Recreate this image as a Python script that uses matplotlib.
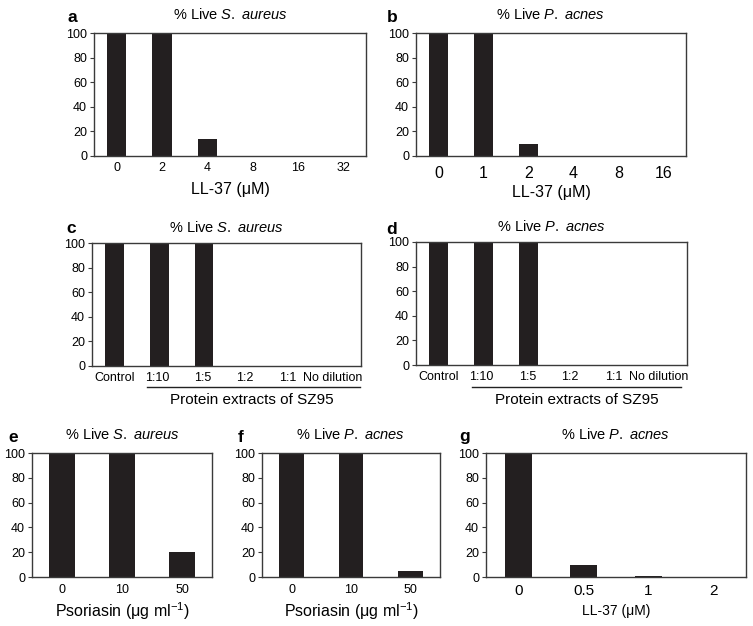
import matplotlib
matplotlib.use("Agg")
import matplotlib.pyplot as plt
import matplotlib.transforms as mtrans

plt.rcParams["font.family"] = ["Liberation Sans", "DejaVu Sans"]
plt.rcParams["mathtext.fontset"] = "custom"
plt.rcParams["mathtext.rm"] = "Liberation Sans"
plt.rcParams["mathtext.it"] = "Liberation Sans:italic"

BAR = "#231f20"
EDGE = "#3a3a3a"

# data
a_cats = ["0", "2", "4", "8", "16", "32"]
a_vals = [100, 100, 14, 0, 0, 0]
b_cats = ["0", "1", "2", "4", "8", "16"]
b_vals = [100, 100, 10, 0, 0, 0]
cd_cats = ["Control", "1:10", "1:5", "1:2", "1:1", "No dilution"]
c_vals = [100, 100, 100, 0, 0, 0]
d_vals = [100, 100, 100, 0, 0, 0]
ef_cats = ["0", "10", "50"]
e_vals = [100, 100, 20]
f_vals = [100, 100, 5]
g_cats = ["0", "0.5", "1", "2"]
g_vals = [100, 10, 1, 0]
yticks = [0, 20, 40, 60, 80, 100]

SA = r"% Live $\it{S.\ aureus}$"
PA = r"% Live $\it{P.\ acnes}$"
LL = "LL-37 (\u03bcM)"
PS = "Psoriasin (\u03bcg ml$^{-1}$)"

W, H = 753, 626
fig = plt.figure(figsize=(W / 100, H / 100), dpi=100)


def box(l, r, t, b):
    return [l / W, 1 - b / H, (r - l) / W, (b - t) / H]


def panel(rect, cats, vals, title, xlabel=None, xfs=9, yfs=9, lfs=11.5,
          lpad=4, tpad=9, xpad=4):
    ax = fig.add_axes(rect)
    x = range(len(cats))
    ax.bar(x, vals, width=0.42, color=BAR)
    ax.set_xlim(-0.5, len(cats) - 0.5)
    ax.set_ylim(0, 100)
    ax.set_yticks(yticks)
    ax.set_xticks(list(x))
    ax.set_xticklabels(cats, fontsize=xfs)
    ax.tick_params(axis="y", labelsize=yfs, length=3, width=0.8, color=EDGE, pad=2)
    ax.tick_params(axis="x", length=0, pad=xpad)
    for s in ax.spines.values():
        s.set_color(EDGE)
        s.set_linewidth(1)
    ax.set_title(title, fontsize=10.5, pad=tpad)
    if xlabel:
        ax.set_xlabel(xlabel, fontsize=lfs, labelpad=lpad)
    return ax


def letter(x, y, s):
    fig.text(x / W, 1 - y / H, s, fontsize=12.5, fontweight="bold", ha="center", va="center")


panel(box(94, 366, 33, 156), a_cats, a_vals, SA, LL, xfs=9, lpad=6, tpad=10)
letter(72, 18, "a")
panel(box(416, 686, 33, 156), b_cats, b_vals, PA, LL, xfs=11.5, lpad=3, tpad=10, xpad=7)
letter(392, 17, "b")

# small left shifts (px) of the dilution tick labels, as in the reference
cd_shift = [0, -2, -1, -4, -6, -6]

for rect, vals, title, lx, ly, x0, x1, ylin, ytxt, xtxt, s in [
    (box(92, 361, 243, 366), c_vals, SA, 71, 228, 0.204, 0.996, -0.17, -0.28, 0.595, "c"),
    (box(416, 687, 242, 365), d_vals, PA, 392, 229, 0.207, 0.978, -0.179, -0.285, 0.594, "d"),
]:
    ax = panel(rect, cd_cats, vals, title, xfs=9, tpad=8)
    for lab, dx in zip(ax.get_xticklabels(), cd_shift):
        lab.set_transform(lab.get_transform() + mtrans.ScaledTranslation(dx / 100, 0, fig.dpi_scale_trans))
    ax.plot([x0, x1], [ylin, ylin], transform=ax.transAxes, color="#222222", lw=1, clip_on=False)
    ax.text(xtxt, ytxt, "Protein extracts of SZ95", transform=ax.transAxes,
            fontsize=11, ha="center", va="center")
    letter(lx, ly, s)

panel(box(32, 212, 453, 577), ef_cats, e_vals, SA, PS, lpad=3, tpad=10, xpad=5)
letter(13, 438, "e")
panel(box(262, 440, 453, 577), ef_cats, f_vals, PA, PS, lpad=3, tpad=10, xpad=5)
letter(241, 438, "f")
panel(box(486, 746, 453, 577), g_cats, g_vals, PA, LL, xfs=11, lfs=10, lpad=4, tpad=10, xpad=5)
letter(465, 436, "g")

fig.savefig("out.png", dpi=100)
